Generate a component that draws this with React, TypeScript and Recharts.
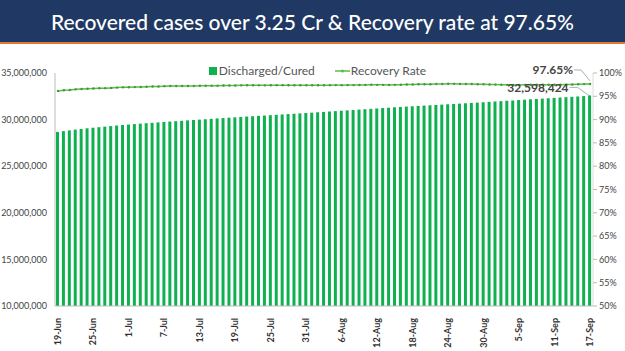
import { ComposedChart, Bar, Line, XAxis, YAxis, LabelList } from 'recharts';

const dates = [
  '19-Jun', '20-Jun', '21-Jun', '22-Jun', '23-Jun', '24-Jun', '25-Jun', '26-Jun', '27-Jun', '28-Jun', '29-Jun', '30-Jun',
  '1-Jul', '2-Jul', '3-Jul', '4-Jul', '5-Jul', '6-Jul', '7-Jul', '8-Jul', '9-Jul', '10-Jul', '11-Jul', '12-Jul', '13-Jul',
  '14-Jul', '15-Jul', '16-Jul', '17-Jul', '18-Jul', '19-Jul', '20-Jul', '21-Jul', '22-Jul', '23-Jul', '24-Jul', '25-Jul',
  '26-Jul', '27-Jul', '28-Jul', '29-Jul', '30-Jul', '31-Jul',
  '1-Aug', '2-Aug', '3-Aug', '4-Aug', '5-Aug', '6-Aug', '7-Aug', '8-Aug', '9-Aug', '10-Aug', '11-Aug', '12-Aug', '13-Aug',
  '14-Aug', '15-Aug', '16-Aug', '17-Aug', '18-Aug', '19-Aug', '20-Aug', '21-Aug', '22-Aug', '23-Aug', '24-Aug', '25-Aug',
  '26-Aug', '27-Aug', '28-Aug', '29-Aug', '30-Aug', '31-Aug',
  '1-Sep', '2-Sep', '3-Sep', '4-Sep', '5-Sep', '6-Sep', '7-Sep', '8-Sep', '9-Sep', '10-Sep', '11-Sep', '12-Sep', '13-Sep',
  '14-Sep', '15-Sep', '16-Sep', '17-Sep',
];

const discharged = [
  28678390, 28763000, 28844000, 28926000, 28995000, 29064000, 29128000, 29188000, 29245000, 29304000, 29367000, 29418000,
  29468000, 29519000, 29568000, 29612000, 29655000, 29698000, 29743000, 29787000, 29831000, 29874000, 29916000, 29957000, 29999000,
  30040000, 30083000, 30123000, 30163000, 30203000, 30243000, 30285000, 30325000, 30363000, 30400000, 30437000, 30475000,
  30514000, 30552000, 30590000, 30629000, 30667000, 30706000,
  30745000, 30786000, 30828000, 30869000, 30909000, 30950000, 30991000, 31032000, 31073000, 31114000, 31155000, 31196000, 31237000,
  31277000, 31316000, 31357000, 31394000, 31431000, 31467000, 31503000, 31538000, 31573000, 31609000, 31645000, 31680000,
  31715000, 31751000, 31788000, 31825000, 31863000, 31903000,
  31942000, 31981000, 32020000, 32060000, 32100000, 32139000, 32178000, 32216000, 32254000, 32292000, 32330000, 32368000, 32406000,
  32444000, 32482000, 32521000, 32598424,
];

const recoveryRate = [
  96.16, 96.29, 96.36, 96.49, 96.56, 96.61, 96.66, 96.72, 96.75, 96.8, 96.87, 96.92,
  96.94, 96.97, 97.01, 97.06, 97.09, 97.11, 97.18, 97.2, 97.22, 97.22, 97.2, 97.22, 97.25,
  97.28, 97.28, 97.29, 97.31, 97.31, 97.31, 97.35, 97.36, 97.37, 97.35, 97.35, 97.36,
  97.39, 97.39, 97.38, 97.37, 97.36, 97.36,
  97.36, 97.37, 97.37, 97.39, 97.4, 97.39, 97.4, 97.4, 97.43, 97.45, 97.48, 97.46, 97.46,
  97.45, 97.46, 97.48, 97.52, 97.53, 97.57, 97.6, 97.6, 97.63, 97.65, 97.68, 97.67,
  97.66, 97.64, 97.63, 97.6, 97.57, 97.53,
  97.51, 97.48, 97.46, 97.45, 97.45, 97.46, 97.48, 97.48, 97.49, 97.49, 97.48, 97.49, 97.51,
  97.54, 97.58, 97.62, 97.65,
];

const leftTicks = [10000000, 15000000, 20000000, 25000000, 30000000, 35000000];
const rightTicks = [50, 55, 60, 65, 70, 75, 80, 85, 90, 95, 100];

const data = dates.map((d, i) => ({ date: d, discharged: discharged[i], rate: recoveryRate[i] }));
const last = data.length - 1;

const FONT = 'Lato, "Noto Sans", sans-serif';
const BAR = '#0FB04F';
const LINE = '#5DBB46';

function DateTick({ x, y, payload }: any) {
  return (
    <text
      x={0}
      y={0}
      transform={`translate(${x + 3},${y + 4}) rotate(-90)`}
      textAnchor="end"
      fontSize={9}
      fontWeight={700}
      fill="#333"
      fontFamily={FONT}
    >
      {payload.value}
    </text>
  );
}

function RateLabel(props: any) {
  const { x, y, index } = props;
  if (index !== last) return null;
  return (
    <g>
      <polyline points={`${x - 16},${y - 14} ${x - 9},${y - 14} ${x},${y - 3}`} fill="none" stroke="#999" strokeWidth={0.8} />
      <text x={x - 17} y={y - 10} textAnchor="end" fontSize={12} fontWeight={700} fill="#444" fontFamily={FONT}>
        97.65%
      </text>
    </g>
  );
}

function CasesLabel(props: any) {
  const { x, y, width, index } = props;
  if (index !== last) return null;
  const cx = x + width / 2;
  return (
    <g>
      <polyline points={`${cx - 20},${y - 8} ${cx - 12},${y - 8} ${cx - 1},${y}`} fill="none" stroke="#999" strokeWidth={0.8} />
      <text x={cx - 21} y={y - 3} textAnchor="end" fontSize={12} fontWeight={700} fill="#444" fontFamily={FONT}>
        32,598,424
      </text>
    </g>
  );
}

function ChartLegend() {
  return (
    <div
      style={{
        position: 'absolute',
        left: 0,
        top: 63,
        width: 625,
        display: 'flex',
        justifyContent: 'center',
        fontFamily: FONT,
        fontSize: 12,
        color: '#555',
        lineHeight: '16px',
      }}
    >
      <span style={{ display: 'flex', alignItems: 'center', marginRight: 20, marginLeft: 10 }}>
        <span style={{ width: 8, height: 8, background: BAR, marginRight: 2, display: 'inline-block' }} />
        Discharged/Cured
      </span>
      <span style={{ display: 'flex', alignItems: 'center' }}>
        <svg width={15} height={8} style={{ marginRight: 1 }}>
          <line x1={0} y1={4} x2={15} y2={4} stroke={LINE} strokeWidth={1.5} />
          <circle cx={7.5} cy={4} r={1.5} fill={LINE} />
        </svg>
        Recovery Rate
      </span>
    </div>
  );
}

export default function App() {
  return (
    <div style={{ position: 'absolute', left: 0, top: 0, width: 625, height: 351, background: '#fff', overflow: 'hidden' }}>
      <div
        style={{
          height: 42,
          background: '#1F3864',
          borderBottom: '2px solid #E07A3A',
          color: '#fff',
          fontFamily: '"Lato", "Open Sans", sans-serif',
          fontSize: 21,
          fontWeight: 500,
          display: 'flex',
          alignItems: 'center',
          justifyContent: 'center',
        }}
      >
        Recovered cases over 3.25 Cr &amp; Recovery rate at 97.65%
      </div>
      <div style={{ position: 'absolute', left: 0, top: 0 }}>
        <ComposedChart
          width={625}
          height={351}
          data={data}
          margin={{ top: 73, right: 0, bottom: 0, left: 0 }}
          barSize={3}
        >
          <XAxis
            dataKey="date"
            interval={5}
            height={45}
            tick={<DateTick />}
            tickLine={false}
            axisLine={{ stroke: '#bbb' }}
          />
          <YAxis
            yAxisId="left"
            domain={[10000000, 35000000]}
            ticks={leftTicks}
            width={55}
            tickLine={false}
            axisLine={{ stroke: '#bbb' }}
            tickFormatter={(v: number) => v.toLocaleString('en-US')}
            tick={{ fontSize: 9, fill: '#444', fontFamily: FONT }}
            allowDataOverflow
          />
          <YAxis
            yAxisId="right"
            orientation="right"
            domain={[50, 100]}
            ticks={rightTicks}
            width={32}
            tickSize={4}
            tickLine={{ stroke: '#bbb' }}
            axisLine={{ stroke: '#ddd' }}
            tickFormatter={(v: number) => `${v}%`}
            tick={{ fontSize: 9, fill: '#444', fontFamily: FONT }}
          />
          <Bar yAxisId="left" dataKey="discharged" fill={BAR} isAnimationActive={false}>
            <LabelList dataKey="discharged" content={<CasesLabel />} />
          </Bar>
          <Line
            yAxisId="right"
            dataKey="rate"
            stroke={LINE}
            strokeWidth={1.5}
            dot={{ r: 1.2, fill: '#3E9A3A', stroke: 'none' }}
            isAnimationActive={false}
          >
            <LabelList dataKey="rate" content={<RateLabel />} />
          </Line>
        </ComposedChart>
      </div>
      <ChartLegend />
    </div>
  );
}
